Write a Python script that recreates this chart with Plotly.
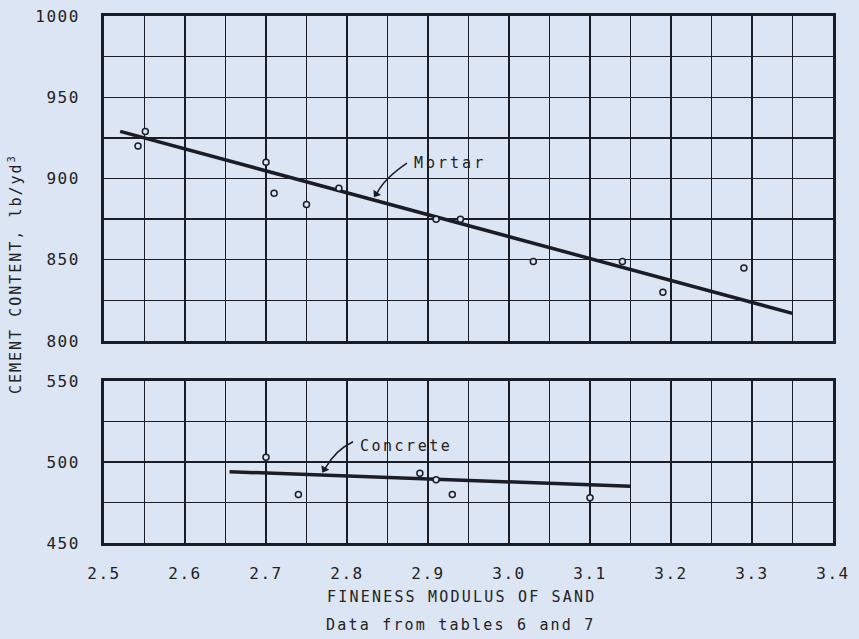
import plotly.graph_objects as go

# ---- data ----
mortar_fm = [2.542, 2.551, 2.70, 2.71, 2.75, 2.79, 2.91, 2.94, 3.03, 3.14, 3.19, 3.29]
mortar_cement = [920, 929, 910, 891, 884, 894, 875, 875, 849, 849, 830, 845]
mortar_fit_fm = [2.52, 3.35]
mortar_fit_cement = [929, 817]

concrete_fm = [2.70, 2.74, 2.89, 2.91, 2.93, 3.10]
concrete_cement = [503, 480, 493, 489, 480, 478]
concrete_fit_fm = [2.655, 3.15]
concrete_fit_cement = [494, 485]

x_tickvals = [2.5, 2.6, 2.7, 2.8, 2.9, 3.0, 3.1, 3.2, 3.3, 3.4]
x_ticklabels = ["2.5", "2.6", "2.7", "2.8", "2.9", "3.0", "3.1", "3.2", "3.3", "3.4"]
x_minor_vals = [2.55, 2.65, 2.75, 2.85, 2.95, 3.05, 3.15, 3.25, 3.35]
top_tickvals = [800, 850, 900, 950, 1000]
top_ticklabels = ["800", "850", "900", "950", "1000"]
top_minor_vals = [825, 875, 925, 975]
bot_tickvals = [450, 500, 550]
bot_ticklabels = ["450", "500", "550"]
bot_minor_vals = [475, 525]

BG = "#dce5f3"
INK = "#1b1d26"
TXT = "#222222"
FONT = "DejaVu Sans Mono"


def sp(t, s=1.5):
    return f'<span style="letter-spacing:{s}px">{t}</span>'


fig = go.Figure()

fig.add_trace(go.Scatter(x=mortar_fit_fm, y=mortar_fit_cement, mode="lines",
                         line=dict(color=INK, width=3.5), xaxis="x", yaxis="y",
                         showlegend=False, hoverinfo="skip"))
fig.add_trace(go.Scatter(x=mortar_fm, y=mortar_cement, mode="markers",
                         marker=dict(symbol="circle", size=6, color=BG,
                                     line=dict(color=INK, width=1.5)),
                         xaxis="x", yaxis="y", showlegend=False))
fig.add_trace(go.Scatter(x=concrete_fit_fm, y=concrete_fit_cement, mode="lines",
                         line=dict(color=INK, width=3.5), xaxis="x2", yaxis="y2",
                         showlegend=False, hoverinfo="skip"))
fig.add_trace(go.Scatter(x=concrete_fm, y=concrete_cement, mode="markers",
                         marker=dict(symbol="circle", size=6, color=BG,
                                     line=dict(color=INK, width=1.5)),
                         xaxis="x2", yaxis="y2", showlegend=False))

# arrowheads of the leader lines
fig.add_trace(go.Scatter(x=[2.836], y=[890.5], mode="markers",
                         marker=dict(symbol="triangle-up", size=8, color=INK,
                                     angle=215, line=dict(width=0)),
                         xaxis="x", yaxis="y", showlegend=False, hoverinfo="skip"))
fig.add_trace(go.Scatter(x=[2.772], y=[495.5], mode="markers",
                         marker=dict(symbol="triangle-up", size=8, color=INK,
                                     angle=210, line=dict(width=0)),
                         xaxis="x2", yaxis="y2", showlegend=False, hoverinfo="skip"))

axis_common = dict(showline=True, mirror=True, linewidth=3, linecolor=INK,
                   showgrid=True, gridcolor=INK, gridwidth=1.4, zeroline=False,
                   automargin=False, ticks="",
                   tickfont=dict(family=FONT, size=16, color=TXT))
minor_common = dict(showgrid=True, gridcolor=INK, gridwidth=1.4, ticks="")

fig.update_layout(
    width=859, height=639, autosize=False,
    paper_bgcolor=BG, plot_bgcolor=BG,
    margin=dict(l=104, r=26, t=16, b=96, autoexpand=False),
    xaxis=dict(axis_common, domain=[0, 1], range=[2.5, 3.4], tickvals=x_tickvals,
               anchor="y", showticklabels=False,
               minor=dict(minor_common, tickvals=x_minor_vals)),
    yaxis=dict(axis_common, domain=[0.3833, 1], range=[800, 1000],
               tickvals=top_tickvals, ticktext=[sp(t) for t in top_ticklabels],
               ticklabelstandoff=18, anchor="x",
               minor=dict(minor_common, tickvals=top_minor_vals)),
    xaxis2=dict(axis_common, domain=[0, 1], range=[2.5, 3.4], tickvals=x_tickvals,
                ticktext=[sp(t) for t in x_ticklabels], ticklabelstandoff=14,
                anchor="y2", minor=dict(minor_common, tickvals=x_minor_vals)),
    yaxis2=dict(axis_common, domain=[0, 0.3074], range=[450, 550],
                tickvals=bot_tickvals, ticktext=[sp(t) for t in bot_ticklabels],
                ticklabelstandoff=18, anchor="x2",
                minor=dict(minor_common, tickvals=bot_minor_vals)),
)

# Curved leader lines
fig.add_shape(type="path", xref="x", yref="y",
              path="M 2.874 909.5 Q 2.846 900 2.837 891",
              line=dict(color=INK, width=1.5))
fig.add_shape(type="path", xref="x2", yref="y2",
              path="M 2.8074 512.5 Q 2.786 507.5 2.773 496",
              line=dict(color=INK, width=1.5))

annotations = [
    dict(x=2.880, y=909.5, xref="x", yref="y", text=sp("Mortar", 3),
         showarrow=False, xanchor="left", yanchor="middle",
         font=dict(family=FONT, size=15, color=TXT)),
    dict(x=2.8136, y=510.1, xref="x2", yref="y2", text=sp("Concrete", 2.5),
         showarrow=False, xanchor="left", yanchor="middle",
         font=dict(family=FONT, size=15, color=TXT)),
    dict(x=0.491, y=-0.1025, xref="paper", yref="paper",
         text=sp("FINENESS MODULUS OF SAND", 2.2), showarrow=False,
         xanchor="center", yanchor="middle",
         font=dict(family=FONT, size=15, color=TXT)),
    dict(x=0.4897, y=-0.1556, xref="paper", yref="paper",
         text=sp("Data from tables 6 and 7", 2.2), showarrow=False,
         xanchor="center", yanchor="middle",
         font=dict(family=FONT, size=15, color=TXT)),
    dict(x=-0.122, y=0.5085, xref="paper", yref="paper",
         text=sp("CEMENT CONTENT, lb/yd", 2) + "<sup>3</sup>", showarrow=False,
         textangle=-90, xanchor="center", yanchor="middle",
         font=dict(family=FONT, size=15, color=TXT)),
]
fig.update_layout(annotations=annotations)

fig.write_html(
    "out.html",
    config={"displayModeBar": False, "staticPlot": True},
    post_script=(
        "document.body.style.margin='0';"
        "document.body.style.padding='0';"
        "document.body.style.background='" + BG + "';"
        "document.documentElement.style.overflow='hidden';"
    ),
)
